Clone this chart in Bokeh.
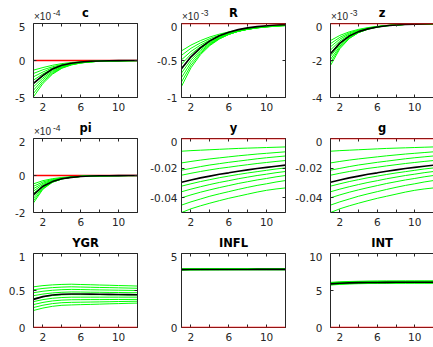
from bokeh.plotting import figure
from bokeh.layouts import gridplot
from bokeh.models import Range1d, FixedTicker, LinearAxis, Label, Span
from bokeh.embed import file_html
from bokeh.resources import INLINE

# ---------------- data ----------------
periods = [1, 2, 3, 4, 5, 6, 7, 8, 9, 10, 11, 12]
x_ticks = [2, 6, 10]
x_minor_ticks = [4, 8, 12]

titles = ["c", "R", "z", "pi", "y", "g", "YGR", "INFL", "INT"]
exponents = ["-4", "-3", "-3", "-4", None, None, None, None, None]
y_limits = [(-5, 5), (-1, 0), (-4, 0), (-2, 2), (-0.05, 0), (-0.05, 0), (0, 1), (0, 5), (0, 10)]
y_ticks = [[-5, 0, 5], [-1, -0.5, 0], [-4, -2, 0], [-2, 0, 2], [-0.04, -0.02, 0],
           [-0.04, -0.02, 0], [0, 0.5, 1], [0, 5], [0, 5, 10]]
y_tick_labels = [["-5", "0", "5"], ["-1", "-0.5", "0"], ["-4", "-2", "0"], ["-2", "0", "2"],
                 ["-0.04", "-0.02", "0"], ["-0.04", "-0.02", "0"], ["0", "0.5", "1"],
                 ["0", "5"], ["0", "5", "10"]]

# c (x 1e-4)
c_mean = [-3.1, -2.0, -1.15, -0.65, -0.37, -0.2, -0.11, -0.06, -0.03, -0.02, -0.01, 0.0]
c_bands = [
    [-1.3, -0.95, -0.65, -0.42, -0.27, -0.17, -0.1, -0.06, -0.04, -0.02, -0.01, 0.0],
    [-1.75, -1.25, -0.85, -0.55, -0.35, -0.22, -0.13, -0.08, -0.05, -0.03, -0.01, 0.0],
    [-2.2, -1.55, -1.0, -0.65, -0.4, -0.25, -0.15, -0.09, -0.05, -0.03, -0.02, -0.01],
    [-2.65, -1.8, -1.15, -0.72, -0.45, -0.27, -0.16, -0.1, -0.06, -0.03, -0.02, -0.01],
    [-3.1, -2.1, -1.3, -0.8, -0.48, -0.29, -0.17, -0.1, -0.06, -0.03, -0.02, -0.01],
    [-3.55, -2.35, -1.45, -0.88, -0.52, -0.3, -0.18, -0.1, -0.06, -0.03, -0.02, -0.01],
    [-4.0, -2.6, -1.6, -0.95, -0.55, -0.32, -0.18, -0.1, -0.06, -0.03, -0.02, -0.01],
    [-4.45, -2.85, -1.75, -1.0, -0.58, -0.33, -0.19, -0.1, -0.06, -0.03, -0.02, -0.01],
    [-4.9, -3.1, -1.85, -1.05, -0.6, -0.34, -0.19, -0.1, -0.06, -0.03, -0.02, -0.01],
]
# R (x 1e-3)
R_mean = [-0.61, -0.45, -0.33, -0.235, -0.165, -0.117, -0.083, -0.059, -0.042, -0.03, -0.021, -0.015]
R_bands = [
    [-0.37, -0.292, -0.231, -0.182, -0.144, -0.114, -0.090, -0.071, -0.056, -0.044, -0.035, -0.028],
    [-0.43, -0.335, -0.262, -0.204, -0.159, -0.124, -0.097, -0.076, -0.059, -0.046, -0.036, -0.028],
    [-0.49, -0.377, -0.291, -0.224, -0.172, -0.133, -0.102, -0.079, -0.060, -0.047, -0.036, -0.028],
    [-0.55, -0.415, -0.314, -0.237, -0.179, -0.135, -0.102, -0.077, -0.058, -0.044, -0.033, -0.025],
    [-0.61, -0.454, -0.339, -0.252, -0.188, -0.140, -0.104, -0.078, -0.058, -0.043, -0.032, -0.024],
    [-0.67, -0.492, -0.362, -0.266, -0.196, -0.144, -0.106, -0.078, -0.057, -0.042, -0.031, -0.023],
    [-0.73, -0.529, -0.384, -0.278, -0.202, -0.146, -0.106, -0.077, -0.056, -0.040, -0.029, -0.021],
    [-0.79, -0.565, -0.404, -0.289, -0.206, -0.148, -0.105, -0.075, -0.054, -0.039, -0.028, -0.020],
    [-0.85, -0.599, -0.422, -0.298, -0.210, -0.148, -0.104, -0.074, -0.052, -0.037, -0.026, -0.018],
]
# z (x 1e-3)
z_mean = [-1.64, -1.06, -0.68, -0.44, -0.29, -0.19, -0.12, -0.08, -0.05, -0.035, -0.022, -0.015]
z_bands = [
    [-0.92, -0.644, -0.451, -0.316, -0.221, -0.155, -0.108, -0.076, -0.053, -0.037, -0.026, -0.018],
    [-1.09, -0.747, -0.511, -0.350, -0.240, -0.164, -0.113, -0.077, -0.053, -0.036, -0.025, -0.017],
    [-1.26, -0.844, -0.566, -0.379, -0.254, -0.170, -0.114, -0.076, -0.051, -0.034, -0.023, -0.015],
    [-1.43, -0.944, -0.623, -0.411, -0.271, -0.179, -0.118, -0.078, -0.052, -0.034, -0.022, -0.015],
    [-1.60, -1.04, -0.676, -0.439, -0.286, -0.186, -0.121, -0.078, -0.051, -0.033, -0.022, -0.014],
    [-1.77, -1.133, -0.725, -0.464, -0.297, -0.190, -0.122, -0.078, -0.050, -0.032, -0.020, -0.013],
    [-1.94, -1.222, -0.770, -0.485, -0.306, -0.193, -0.121, -0.076, -0.048, -0.030, -0.019, -0.012],
    [-2.11, -1.298, -0.798, -0.491, -0.302, -0.186, -0.114, -0.070, -0.043, -0.027, -0.016, -0.010],
    [-2.27, -1.362, -0.817, -0.490, -0.294, -0.176, -0.106, -0.064, -0.038, -0.023, -0.014, -0.008],
]
# pi (x 1e-4)
pi_mean = [-1.04, -0.58, -0.33, -0.18, -0.1, -0.055, -0.03, -0.017, -0.01, -0.005, -0.003, -0.002]
pi_bands = [
    [-0.45, -0.279, -0.173, -0.107, -0.066, -0.041, -0.026, -0.016, -0.010, -0.006, -0.004, -0.002],
    [-0.58, -0.351, -0.212, -0.128, -0.078, -0.047, -0.028, -0.017, -0.010, -0.006, -0.004, -0.002],
    [-0.71, -0.419, -0.247, -0.146, -0.086, -0.051, -0.030, -0.018, -0.010, -0.006, -0.004, -0.002],
    [-0.84, -0.483, -0.278, -0.160, -0.092, -0.053, -0.030, -0.017, -0.010, -0.006, -0.003, -0.002],
    [-0.97, -0.543, -0.304, -0.170, -0.095, -0.053, -0.030, -0.017, -0.009, -0.005, -0.003, -0.002],
    [-1.10, -0.600, -0.327, -0.178, -0.097, -0.053, -0.029, -0.016, -0.009, -0.005, -0.003, -0.001],
    [-1.23, -0.652, -0.345, -0.183, -0.097, -0.051, -0.027, -0.014, -0.008, -0.004, -0.002, -0.001],
    [-1.36, -0.700, -0.361, -0.186, -0.096, -0.049, -0.025, -0.013, -0.007, -0.004, -0.002, -0.001],
    [-1.48, -0.740, -0.370, -0.185, -0.093, -0.046, -0.023, -0.012, -0.006, -0.003, -0.001, -0.001],
]
# y
y_mean = [-0.0295, -0.0280, -0.0266, -0.0254, -0.0242, -0.0232, -0.0221, -0.0212, -0.0203, -0.0195, -0.0187, -0.0180]
y_bands = [
    [-0.0086, -0.0082, -0.0079, -0.0076, -0.0073, -0.0070, -0.0067, -0.0065, -0.0063, -0.0061, -0.0059, -0.0057],
    [-0.0165, -0.0155, -0.0146, -0.0138, -0.0131, -0.0124, -0.0117, -0.0111, -0.0105, -0.0100, -0.0095, -0.0090],
    [-0.0214, -0.0202, -0.0190, -0.0179, -0.0170, -0.0161, -0.0153, -0.0145, -0.0137, -0.0130, -0.0124, -0.0118],
    [-0.0248, -0.0235, -0.0223, -0.0212, -0.0202, -0.0194, -0.0185, -0.0177, -0.0169, -0.0162, -0.0155, -0.0149],
    [-0.0322, -0.0306, -0.0291, -0.0278, -0.0265, -0.0254, -0.0243, -0.0233, -0.0224, -0.0215, -0.0206, -0.0199],
    [-0.0360, -0.0342, -0.0326, -0.0311, -0.0297, -0.0285, -0.0272, -0.0261, -0.0250, -0.0241, -0.0231, -0.0223],
    [-0.0401, -0.0381, -0.0363, -0.0347, -0.0332, -0.0318, -0.0304, -0.0292, -0.0280, -0.0270, -0.0259, -0.0250],
    [-0.0450, -0.0428, -0.0409, -0.0390, -0.0374, -0.0359, -0.0344, -0.0330, -0.0317, -0.0306, -0.0294, -0.0284],
    [-0.0500, -0.0475, -0.0455, -0.0437, -0.0420, -0.0404, -0.0390, -0.0376, -0.0362, -0.0350, -0.0341, -0.0334],
]
# g
g_mean = [-0.0295, -0.0280, -0.0266, -0.0254, -0.0242, -0.0232, -0.0221, -0.0212, -0.0203, -0.0195, -0.0187, -0.0180]
g_bands = [
    [-0.0086, -0.0082, -0.0079, -0.0076, -0.0073, -0.0070, -0.0067, -0.0065, -0.0063, -0.0061, -0.0059, -0.0057],
    [-0.0165, -0.0155, -0.0146, -0.0138, -0.0131, -0.0124, -0.0117, -0.0111, -0.0105, -0.0100, -0.0095, -0.0090],
    [-0.0214, -0.0202, -0.0190, -0.0179, -0.0170, -0.0161, -0.0153, -0.0145, -0.0137, -0.0130, -0.0124, -0.0118],
    [-0.0248, -0.0235, -0.0223, -0.0212, -0.0202, -0.0194, -0.0185, -0.0177, -0.0169, -0.0162, -0.0155, -0.0149],
    [-0.0322, -0.0306, -0.0291, -0.0278, -0.0265, -0.0254, -0.0243, -0.0233, -0.0224, -0.0215, -0.0206, -0.0199],
    [-0.0360, -0.0342, -0.0326, -0.0311, -0.0297, -0.0285, -0.0272, -0.0261, -0.0250, -0.0241, -0.0231, -0.0223],
    [-0.0401, -0.0381, -0.0363, -0.0347, -0.0332, -0.0318, -0.0304, -0.0292, -0.0280, -0.0270, -0.0259, -0.0250],
    [-0.0450, -0.0428, -0.0409, -0.0390, -0.0374, -0.0359, -0.0344, -0.0330, -0.0317, -0.0306, -0.0294, -0.0284],
    [-0.0500, -0.0475, -0.0455, -0.0437, -0.0420, -0.0404, -0.0390, -0.0376, -0.0362, -0.0350, -0.0341, -0.0334],
]
# YGR
YGR_mean = [0.38, 0.417, 0.44, 0.449, 0.452, 0.452, 0.451, 0.45, 0.448, 0.446, 0.444, 0.442]
YGR_bands = [
    [0.55, 0.566, 0.576, 0.582, 0.585, 0.581, 0.578, 0.574, 0.571, 0.567, 0.564, 0.56],
    [0.51, 0.528, 0.539, 0.546, 0.55, 0.547, 0.544, 0.541, 0.539, 0.536, 0.533, 0.53],
    [0.47, 0.490, 0.503, 0.511, 0.515, 0.513, 0.51, 0.508, 0.506, 0.504, 0.502, 0.50],
    [0.43, 0.452, 0.467, 0.476, 0.48, 0.479, 0.477, 0.476, 0.474, 0.473, 0.471, 0.47],
    [0.39, 0.415, 0.431, 0.441, 0.445, 0.444, 0.443, 0.443, 0.442, 0.441, 0.441, 0.44],
    [0.35, 0.377, 0.395, 0.405, 0.41, 0.41, 0.41, 0.41, 0.41, 0.41, 0.41, 0.41],
    [0.31, 0.339, 0.359, 0.370, 0.375, 0.376, 0.377, 0.377, 0.378, 0.379, 0.379, 0.38],
    [0.27, 0.301, 0.323, 0.335, 0.34, 0.342, 0.344, 0.346, 0.348, 0.351, 0.353, 0.355],
    [0.23, 0.263, 0.286, 0.300, 0.305, 0.309, 0.312, 0.316, 0.32, 0.323, 0.327, 0.33],
]
# INFL
INFL_mean = [3.91, 3.915, 3.918, 3.92, 3.921, 3.922, 3.923, 3.923, 3.924, 3.924, 3.924, 3.924]
INFL_bands = [
    [3.885, 3.89, 3.893, 3.895, 3.896, 3.897, 3.898, 3.898, 3.899, 3.899, 3.899, 3.899],
    [3.895, 3.90, 3.903, 3.905, 3.906, 3.907, 3.908, 3.908, 3.909, 3.909, 3.909, 3.909],
    [3.905, 3.91, 3.913, 3.915, 3.916, 3.917, 3.918, 3.918, 3.919, 3.919, 3.919, 3.919],
    [3.915, 3.92, 3.923, 3.925, 3.926, 3.927, 3.928, 3.928, 3.929, 3.929, 3.929, 3.929],
    [3.925, 3.93, 3.933, 3.935, 3.936, 3.937, 3.938, 3.938, 3.939, 3.939, 3.939, 3.939],
    [3.935, 3.94, 3.943, 3.945, 3.946, 3.947, 3.948, 3.948, 3.949, 3.949, 3.949, 3.949],
    [3.945, 3.95, 3.953, 3.955, 3.956, 3.957, 3.958, 3.958, 3.959, 3.959, 3.959, 3.959],
    [3.955, 3.96, 3.963, 3.965, 3.966, 3.967, 3.968, 3.968, 3.969, 3.969, 3.969, 3.969],
    [3.965, 3.97, 3.973, 3.975, 3.976, 3.977, 3.978, 3.978, 3.979, 3.979, 3.979, 3.979],
]
# INT
INT_mean = [5.90, 5.98, 6.03, 6.06, 6.08, 6.09, 6.10, 6.11, 6.11, 6.12, 6.12, 6.12]
INT_bands = [
    [5.74, 5.824, 5.884, 5.92, 5.942, 5.956, 5.966, 5.970, 5.975, 5.978, 5.98, 5.98],
    [5.785, 5.867, 5.926, 5.961, 5.982, 5.997, 6.006, 6.011, 6.015, 6.018, 6.02, 6.02],
    [5.83, 5.911, 5.968, 6.003, 6.023, 6.037, 6.046, 6.051, 6.055, 6.058, 6.06, 6.06],
    [5.875, 5.954, 6.010, 6.044, 6.064, 6.078, 6.087, 6.091, 6.096, 6.098, 6.10, 6.10],
    [5.92, 5.997, 6.052, 6.085, 6.105, 6.118, 6.127, 6.131, 6.136, 6.138, 6.14, 6.14],
    [5.965, 6.040, 6.094, 6.126, 6.146, 6.159, 6.167, 6.171, 6.176, 6.178, 6.18, 6.18],
    [6.01, 6.084, 6.136, 6.168, 6.186, 6.199, 6.207, 6.212, 6.216, 6.218, 6.22, 6.22],
    [6.055, 6.127, 6.178, 6.209, 6.227, 6.240, 6.248, 6.252, 6.256, 6.258, 6.26, 6.26],
    [6.10, 6.17, 6.22, 6.25, 6.268, 6.28, 6.288, 6.292, 6.296, 6.298, 6.30, 6.30],
]

means = [c_mean, R_mean, z_mean, pi_mean, y_mean, g_mean, YGR_mean, INFL_mean, INT_mean]
bands = [c_bands, R_bands, z_bands, pi_bands, y_bands, g_bands, YGR_bands, INFL_bands, INT_bands]

# ---------------- layout ----------------
col_w = [144, 145, 144]
col_bl = [33, 37, 41]
col_br = [7, 4, 0]
col_label_standoff = [8, 4, 8]
header_h = [22, 22, 23]
plot_bb = [18, 17, 20]
PLOT_BT = 1
FRAME_H = 74

AX = "#262626"
TICK_FONT = "DejaVu Sans"


def style_axis(ax, ticker, labels=None, standoff=4):
    ax.ticker = ticker
    ax.axis_line_color = AX
    ax.axis_line_width = 1
    ax.major_tick_line_color = AX
    ax.minor_tick_line_color = AX
    ax.major_tick_in = 3
    ax.major_tick_out = 0
    ax.minor_tick_in = 3
    ax.minor_tick_out = 0
    if labels is None:
        ax.major_label_text_font_size = "0px"
        ax.major_label_text_color = None
        ax.major_label_standoff = 0
    else:
        ax.major_label_text_font = TICK_FONT
        ax.major_label_text_font_size = "10.5px"
        ax.major_label_text_color = AX
        ax.major_label_standoff = standoff
        ax.major_label_overrides = labels


rows = []
for r in range(3):
    header_row = []
    plot_row = []
    for c in range(3):
        i = 3 * r + c
        lo, hi = y_limits[i]

        # header strip holding the title and the exponent (offsets measured from the frame top)
        h = figure(width=col_w[c], height=header_h[r], x_range=Range1d(1, 12), y_range=Range1d(0, 1),
                   output_backend="svg", toolbar_location=None, x_axis_type=None, y_axis_type=None,
                   min_border_left=col_bl[c], min_border_right=col_br[c],
                   min_border_top=0, min_border_bottom=0)
        h.outline_line_color = None
        h.grid.visible = False
        h.add_layout(Label(x=6.5, y=0, y_offset=10.6 - PLOT_BT, text=titles[i], text_align="center",
                           text_baseline="middle", text_font="DejaVu Sans", text_font_style="bold",
                           text_font_size="11.5px", text_color="black"))
        if exponents[i] is not None:
            h.add_layout(Label(x=1, y=0, y_offset=6.8 - PLOT_BT, x_offset=0.5, text="\u00d710",
                               text_align="left", text_baseline="middle", text_font="Liberation Sans",
                               text_font_size="10px", text_color=AX))
            h.add_layout(Label(x=1, y=0, y_offset=10.8 - PLOT_BT, x_offset=19.5, text=exponents[i],
                               text_align="left", text_baseline="middle", text_font="Liberation Sans",
                               text_font_size="8.5px", text_color=AX))
        header_row.append(h)

        p = figure(width=col_w[c], height=PLOT_BT + FRAME_H + plot_bb[r],
                   x_range=Range1d(1, 12), y_range=Range1d(lo, hi),
                   output_backend="svg", toolbar_location=None, x_axis_type=None, y_axis_type=None,
                   min_border_left=col_bl[c], min_border_right=col_br[c],
                   min_border_top=PLOT_BT, min_border_bottom=plot_bb[r])
        p.outline_line_color = None
        p.background_fill_color = "white"
        p.border_fill_color = "white"

        bottom = LinearAxis()
        style_axis(bottom, FixedTicker(ticks=x_ticks, minor_ticks=x_minor_ticks),
                   {t: str(t) for t in x_ticks}, standoff=5)
        p.add_layout(bottom, "below")
        left = LinearAxis()
        style_axis(left, FixedTicker(ticks=y_ticks[i], minor_ticks=[]),
                   dict(zip(y_ticks[i], y_tick_labels[i])), standoff=col_label_standoff[c])
        p.add_layout(left, "left")
        top = LinearAxis()
        style_axis(top, FixedTicker(ticks=x_ticks, minor_ticks=x_minor_ticks))
        p.add_layout(top, "above")
        if c < 2:
            right = LinearAxis()
            style_axis(right, FixedTicker(ticks=y_ticks[i], minor_ticks=[]))
            p.add_layout(right, "right")

        inside = lo < 0 < hi
        p.add_layout(Span(location=0, dimension="width", line_color="red", line_width=1.3,
                          level=("underlay" if inside else "annotation")))

        p.multi_line(xs=[periods] * len(bands[i]), ys=bands[i], line_color="#00ff00", line_width=1)
        p.line(periods, means[i], line_color="black", line_width=1.6)
        plot_row.append(p)
    rows.append(header_row)
    rows.append(plot_row)

grid = gridplot(rows, toolbar_location=None)
open("out.html", "w").write(file_html(grid, INLINE))
